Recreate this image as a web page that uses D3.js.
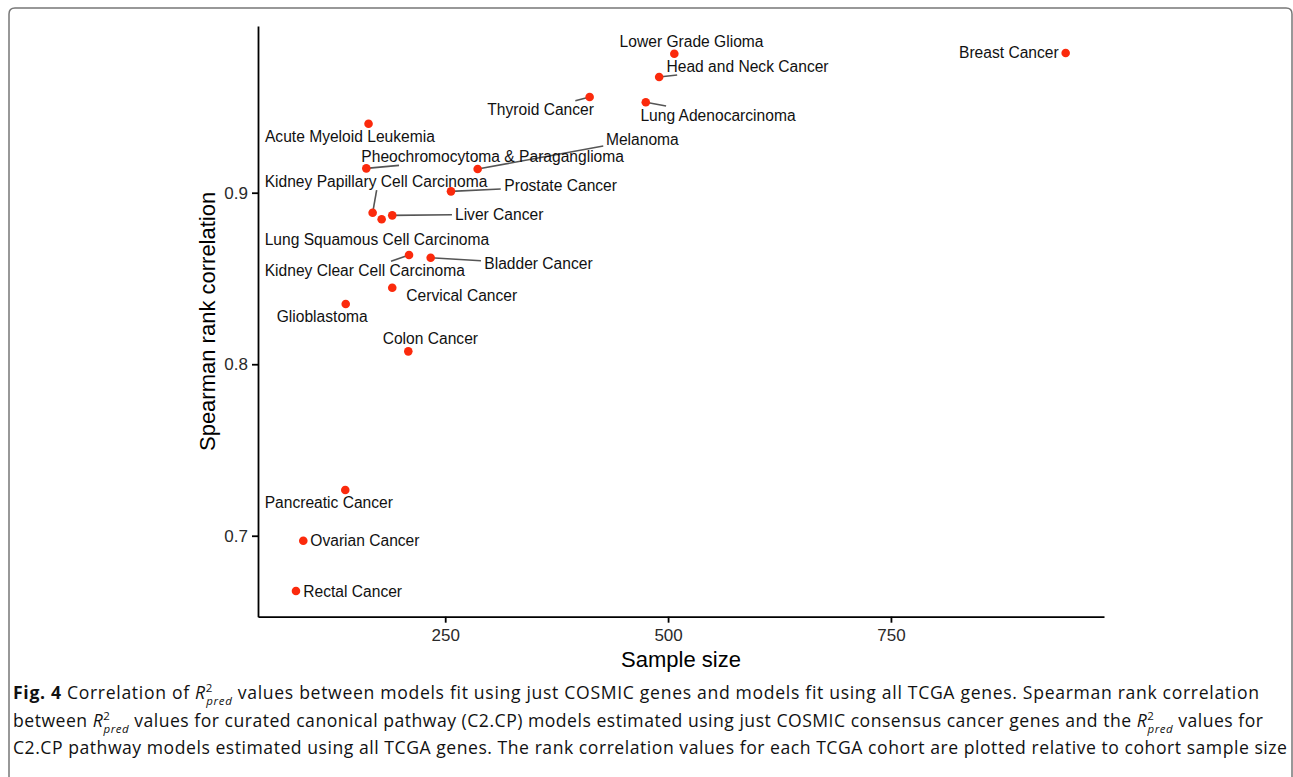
<!DOCTYPE html>
<html><head><meta charset="utf-8">
<script src="https://cdn.jsdelivr.net/npm/d3@7"></script>
<style>body{margin:0;background:#fff;overflow:hidden}</style>
</head><body>
<svg id="c" width="1293" height="777"></svg>
<script>
// ---------------- data ----------------
const cohorts = ["Breast Cancer","Lower Grade Glioma","Head and Neck Cancer","Thyroid Cancer","Lung Adenocarcinoma",
  "Acute Myeloid Leukemia","Pheochromocytoma & Paraganglioma","Melanoma","Prostate Cancer","Kidney Papillary Cell Carcinoma",
  "Lung Squamous Cell Carcinoma","Liver Cancer","Kidney Clear Cell Carcinoma","Bladder Cancer","Cervical Cancer",
  "Glioblastoma","Colon Cancer","Pancreatic Cancer","Ovarian Cancer","Rectal Cancer"];
const sampleSize = [946,507,490,412,475,164,161.5,286.4,256.5,168.6,178.7,190.6,209.4,233.7,190.6,138.4,208.6,137.9,90.8,82.6];
const spearmanCorr = [0.9815,0.981,0.9675,0.9558,0.9527,0.9402,0.9142,0.9138,0.9008,0.8883,0.8845,0.8868,0.8637,0.8621,0.8446,0.8351,0.8075,0.7267,0.6971,0.6678];
const xTicks = [250,500,750];
const yTicks = [0.7,0.8,0.9];
const xTitle = "Sample size";
const yTitle = "Spearman rank correlation";

// ---------------- label layout (pixel offsets from each point) ----------------
const labelDx = [-7,-54.7,7.3,-102.3,-5.4,-103.6,-5,128.3,53.3,-108,-117,62.7,-144.3,53.6,14,-69,-25.6,-80.6,7,7.3];
const labelDy = [4.7,-6.4,-4.7,17.7,18.4,18,-6,-24,-0.6,-26,25.7,4.7,21,11.6,13,17.7,-7.3,18,5.3,5.7];
const labelAnchor = ["end"].concat(Array(19).fill("start"));
// leader segments: [index, dx, dy] end point relative to the point
const segments = [[2,18,-2],[3,-14.3,3.7],[4,20.3,3.7],[6,32.7,-3],[7,125.6,-23],[8,49.7,-2.3],[9,4,-22.7],[11,59.7,-0.6],[12,-18,6.3],[13,50.3,3]];

// ---------------- drawing ----------------
const svg = d3.select("#c");
const x = d3.scaleLinear().domain([40, 989]).range([258, 1104]);
const y = d3.scaleLinear().domain([0.6528, 0.9972]).range([616.7, 26]);

// figure frame
svg.append("path")
  .attr("d","M9,777 V14 Q9,8 15,8 H1286 Q1292,8 1292,14 V777")
  .attr("fill","none").attr("stroke","#777").attr("stroke-width",1.5);

const chartFont = "'Liberation Sans', Arial, Helvetica, sans-serif";

// axes
const xAxis = svg.append("g").attr("transform","translate(0,616.7)")
  .call(d3.axisBottom(x).tickValues(xTicks).tickFormat(d3.format("d")).tickSize(6).tickPadding(6).tickSizeOuter(0));
const yAxis = svg.append("g").attr("transform","translate(258,0)")
  .call(d3.axisLeft(y).tickValues(yTicks).tickFormat(d3.format(".1f")).tickSize(6).tickPadding(4).tickSizeOuter(0));
[xAxis,yAxis].forEach(g=>{
  g.select(".domain").attr("stroke","#000").attr("stroke-width",1.8);
  g.selectAll(".tick line").attr("stroke","#000").attr("stroke-width",1.8);
  g.selectAll(".tick text").attr("fill","#2a2a2a").style("font-family",chartFont).style("font-size","17px");
});

// axis titles
svg.append("text").attr("x",681).attr("y",667).attr("text-anchor","middle")
  .style("font-family",chartFont).style("font-size","22px").attr("fill","#000").text(xTitle);
svg.append("text").attr("transform","translate(215,321.4) rotate(-90)").attr("text-anchor","middle")
  .style("font-family",chartFont).style("font-size","22px").attr("fill","#000").text(yTitle);

const data = cohorts.map((n,i)=>({name:n, sx:sampleSize[i], r:spearmanCorr[i], i}));

// leader segments
svg.append("g").selectAll("line").data(segments).join("line")
  .attr("x1",d=>x(sampleSize[d[0]])).attr("y1",d=>y(spearmanCorr[d[0]]))
  .attr("x2",d=>x(sampleSize[d[0]])+d[1]).attr("y2",d=>y(spearmanCorr[d[0]])+d[2])
  .attr("stroke","#555").attr("stroke-width",1.6);

// points
svg.append("g").selectAll("circle").data(data).join("circle")
  .attr("cx",d=>x(d.sx)).attr("cy",d=>y(d.r)).attr("r",4.3).attr("fill","#fb2a0c");

// labels
svg.append("g").selectAll("text").data(data).join("text")
  .attr("x",d=>x(d.sx)+labelDx[d.i]).attr("y",d=>y(d.r)+labelDy[d.i])
  .attr("text-anchor",d=>labelAnchor[d.i])
  .style("font-family",chartFont).style("font-size","15.6px").attr("fill","#111")
  .text(d=>d.name);

// ---------------- caption ----------------
const capFont = "'Open Sans', 'Noto Sans', sans-serif";
const capLines = [
  {y:699, w:1246, parts:[["b","Fig. 4"],["t"," Correlation of "],["R"],["t"," values between models fit using just COSMIC genes and models fit using all TCGA genes. Spearman rank correlation"]]},
  {y:727, w:1250, parts:[["t","between "],["R"],["t"," values for curated canonical pathway (C2.CP) models estimated using just COSMIC consensus cancer genes and the "],["R"],["t"," values for"]]},
  {y:754, w:1274, parts:[["t","C2.CP pathway models estimated using all TCGA genes. The rank correlation values for each TCGA cohort are plotted relative to cohort sample size"]]}
];
capLines.forEach(L=>{
  const t = svg.append("text").attr("x",13).attr("y",L.y)
    .style("font-family",capFont).style("font-size","17.6px").attr("fill","#111");
  let shifted = 0;
  L.parts.forEach(p=>{
    if(p[0]==="b"){ t.append("tspan").style("font-weight","700").text(p[1]); }
    else if(p[0]==="t"){ const s=t.append("tspan").text(p[1]); if(shifted){s.attr("dy",shifted); shifted=0;} }
    else {
      t.append("tspan").style("font-style","italic").text("R");
      t.append("tspan").attr("dy",-7.5).style("font-size","11.5px").text("2");
      t.append("tspan").attr("dx",-6.8).attr("dy",13).style("font-size","11.5px").style("font-style","italic").text("pred");
      shifted = -5.5;
    }
  });
  const w = t.node().getBBox().width;
  const n = t.text().length;
  t.style("letter-spacing", ((L.w - w)/(n-1)) + "px");
});
</script>
</body></html>
